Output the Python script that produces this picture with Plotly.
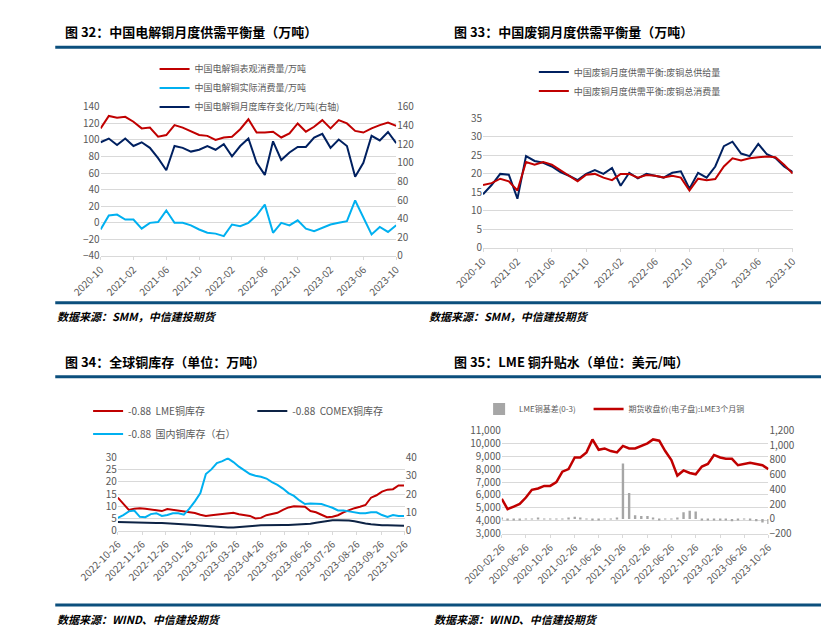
import plotly.graph_objects as go
import pandas as pd

# ---------- Panel 1 ----------
months1 = [str(p) for p in pd.period_range('2020-10', '2023-10', freq='M')]
apparent = [114,129,127,128,122,114,115,104,106,118,115,110,106,105,100,103,104,113,125,109,109,110,103,108,120,110,116,124,114,124,120,111,109,114,118,121,117]
actual = [-8,9,10,4,4,-7,0,1,15,0,0,-3,-8,-12,-13,-16,-2,-4,0,9,22,-12,0,-3,3,-7,-10,-6,-2,0,2,27,6,-14,-5,-11,-3]
stockchg = [122,126,119,126,118,122,116,105,92,118,116,112,114,118,114,120,107,118,126,100,87,123,103,111,117,117,127,131,116,125,118,85,100,129,124,133,121]

# ---------- Panel 2 ----------
supply = [14.5,17,20,19.8,13.3,24.8,23.5,23,22,20.5,19.5,18.3,20,21,20,21.6,16.8,20.3,18.8,20,19.5,19,20.3,20.7,16,20.3,19,22,27.5,28.7,25.5,24.8,28.1,25.3,24.3,22,20.5]
consume = [17,17.5,18.7,18,15.5,23.2,22.5,23.2,22.5,21,19.5,18,19.8,20,19,18.3,20,20,19,19.7,19.5,19,19.5,19,15.5,18.7,18.3,18.6,22,24.2,23.6,24.2,24.5,24.7,24.5,22.5,20.1]

# ---------- Panel 3 ----------
weeks3 = pd.date_range('2022-10-26', periods=53, freq='7D')
lme_stock = [13.5,11,8.5,9,9.2,9,8.7,8.3,8,8.8,8.5,8.3,8,7.5,7.2,6.5,6,6.3,6.5,7,7.2,7.3,6.7,6.3,6,5,5.2,6.3,6.8,7.3,8.5,9.5,10,10,9.8,8,7.5,6.5,5.5,5.7,6.3,7.5,8.5,9.2,9.8,10.5,13.5,14.5,16,16.8,17,18.5,18.5]
comex_stock = [3.5,3.4,3.3,3.3,3.2,3.2,3.2,3.1,3.1,3,3,2.9,2.8,2.6,2.3,2.1,1.9,1.7,1.5,1.4,1.3,1.3,1.4,1.6,1.8,2,2.2,2.3,2.3,2.3,2.3,2.3,2.4,2.5,2.6,2.8,3.2,3.5,4,4.2,4.2,4.2,4.1,3.8,3.2,2.9,2.6,2.3,2.2,2.2,2.1,2.1,2]
cn_stock = [7,8.5,10.5,11,7.5,7.3,9,9.5,8,8.5,9.5,9.5,8.7,12,16,20.5,31,33.5,37,38,39.5,37.5,35,33,31,30,29.5,28.5,26.5,25,23,20.5,19,16.5,14.5,14.8,14.8,14.5,13.5,12.5,11,11,10.5,10,9.5,9.5,10,10,8.5,7.5,8.5,8,8]
ticks3 = pd.date_range('2022-10-26', periods=13, freq=pd.DateOffset(months=1))

# ---------- Panel 4 ----------
months4 = pd.date_range('2020-02-26', periods=45, freq=pd.DateOffset(months=1))
price = [5700,4900,5100,5300,5800,6400,6500,6700,6700,7000,7800,
         8000,8900,8900,9300,10300,9500,9600,9400,9300,9800,9600,9600,
         9800,10000,10300,10200,9400,8700,7500,7900,7700,7600,8200,8400,
         9100,8900,8800,8800,8300,8400,8500,8400,8300,8000]
basis = [10,-10,-15,-10,-5,5,10,-5,-5,-5,-5,
         10,30,10,-5,-10,-10,-5,5,20,750,350,50,
         40,40,20,-10,-5,-5,10,90,110,100,-20,-15,
         -10,-15,-20,-30,-15,5,-20,-30,-50,-70]
ticks4 = pd.date_range('2020-02-26', periods=12, freq=pd.DateOffset(months=4))

RED = '#c00000'; NAVY = '#002060'; CYAN = '#00b0f0'; GREY = '#a6a6a6'
FONT = 'Noto Sans CJK SC'
fig = go.Figure()

fig.add_trace(go.Scatter(x=months1, y=apparent, name='中国电解铜表观消费量/万吨', line=dict(color=RED, width=2), xaxis='x', yaxis='y', legend='legend'))
fig.add_trace(go.Scatter(x=months1, y=actual, name='中国电解铜实际消费量/万吨', line=dict(color=CYAN, width=2), xaxis='x', yaxis='y', legend='legend'))
fig.add_trace(go.Scatter(x=months1, y=stockchg, name='中国电解铜月度库存变化/万吨(右轴)', line=dict(color=NAVY, width=2), xaxis='x', yaxis='y2', legend='legend'))

fig.add_trace(go.Scatter(x=months1, y=supply, name='中国废铜月度供需平衡:废铜总供给量', line=dict(color=NAVY, width=2), xaxis='x2', yaxis='y3', legend='legend2'))
fig.add_trace(go.Scatter(x=months1, y=consume, name='中国废铜月度供需平衡:废铜总消费量', line=dict(color=RED, width=2), xaxis='x2', yaxis='y3', legend='legend2'))

fig.add_trace(go.Scatter(x=weeks3, y=lme_stock, name='-0.88  LME铜库存', line=dict(color=RED, width=2), xaxis='x3', yaxis='y4', legend='legend3'))
fig.add_trace(go.Scatter(x=weeks3, y=comex_stock, name='-0.88  COMEX铜库存', line=dict(color='#0d2345', width=2), xaxis='x3', yaxis='y4', legend='legend5'))
fig.add_trace(go.Scatter(x=weeks3, y=cn_stock, name='-0.88  国内铜库存（右）', line=dict(color=CYAN, width=2), xaxis='x3', yaxis='y5', legend='legend6'))

fig.add_trace(go.Bar(x=months4, y=basis, name='LME铜基差(0-3)', width=12 * 86400000, marker=dict(color=GREY, line_width=0), xaxis='x4', yaxis='y7', legend='legend4'))
fig.add_trace(go.Scatter(x=months4, y=price, name='期货收盘价(电子盘):LME3个月铜', line=dict(color=RED, width=2.5), xaxis='x4', yaxis='y6', legend='legend7'))

tickf = dict(family=FONT, size=10, color='#595959')
xa = dict(showgrid=False, showline=True, linecolor='#d9d9d9', ticks='outside', tickcolor='#d9d9d9', ticklen=3, tickangle=-45, tickfont=tickf)
ya = dict(showgrid=True, gridcolor='#d9d9d9', showline=False, zeroline=False, tickfont=tickf, ticks='')

def lg(x, y, size=9):
    return dict(x=x, y=y, xanchor='left', yanchor='top', orientation='v', bgcolor='rgba(0,0,0,0)',
                font=dict(family=FONT, size=size, color='#595959'), tracegroupgap=0, itemwidth=30)

fig.update_layout(
    width=829, height=640, margin=dict(l=0, r=0, t=0, b=0), plot_bgcolor='white', paper_bgcolor='white',
    showlegend=True, barmode='overlay',
    xaxis=dict(xa, domain=[0.066, 0.444], anchor='y', type='category', tickvals=months1[::4]),
    yaxis=dict(ya, domain=[0.617, 0.856], range=[-40, 140], dtick=20, anchor='x'),
    yaxis2=dict(ya, overlaying='y', side='right', range=[0, 160], dtick=20, showgrid=False, anchor='x'),
    xaxis2=dict(xa, domain=[0.555, 0.951], anchor='y3', type='category', tickvals=months1[::4]),
    yaxis3=dict(ya, domain=[0.630, 0.8375], range=[0, 35], dtick=5, anchor='x2'),
    xaxis3=dict(xa, domain=[0.088, 0.455], anchor='y4', tickvals=list(ticks3), tickformat='%Y-%m-%d', range=[ticks3[0], ticks3[-1]]),
    yaxis4=dict(ya, domain=[0.177, 0.294], range=[0, 30], dtick=5, anchor='x3'),
    yaxis5=dict(ya, overlaying='y4', side='right', range=[0, 40], dtick=10, showgrid=False, anchor='x3'),
    xaxis4=dict(xa, domain=[0.579, 0.920], anchor='y6', tickvals=list(ticks4), tickformat='%Y-%m-%d', range=[months4[0], months4[-1]]),
    yaxis6=dict(ya, domain=[0.172, 0.3375], range=[3000, 11000], dtick=1000, tickformat=',', anchor='x4'),
    yaxis7=dict(ya, overlaying='y6', side='right', range=[-200, 1200], dtick=200, tickformat=',', showgrid=False, anchor='x4'),
    legend=lg(0.135, 0.94),
    legend2=lg(0.62, 0.935),
    legend3=lg(0.05, 0.392, 10),
    legend5=lg(0.26, 0.392, 10),
    legend6=lg(0.05, 0.355, 10),
    legend4=lg(0.55, 0.395, 8),
    legend7=lg(0.69, 0.395, 8),
)

# titles, rules, sources
titles = [(0.018, 15, '图 32：中国电解铜月度供需平衡量（万吨）'), (0.515, 15, '图 33：中国废铜月度供需平衡量（万吨）'),
          (0.018, 353, '图 34：全球铜库存（单位：万吨）'), (0.515, 353, '图 35：LME 铜升贴水（单位：美元/吨）')]
for x, py, t in titles:
    fig.add_annotation(x=x, y=1 - py / 640, xref='paper', yref='paper', text='<b>' + t + '</b>', showarrow=False,
                       xanchor='left', yanchor='middle', font=dict(family=FONT, size=13, color='black'))
sources = [(0.008, 307, '数据来源：SMM，中信建投期货'), (0.483, 307, '数据来源：SMM，中信建投期货'),
           (0.008, 617, '数据来源：WIND、中信建投期货'), (0.49, 617, '数据来源：WIND、中信建投期货')]
for x, py, t in sources:
    fig.add_annotation(x=x, y=1 - py / 640, xref='paper', yref='paper', text='<b><i>' + t + '</i></b>', showarrow=False,
                       xanchor='left', yanchor='middle', font=dict(family=FONT, size=11, color='black'))
for py in [31, 293, 369, 603]:
    fig.add_shape(type='line', xref='paper', yref='paper', x0=0.008, x1=0.996, y0=1 - py / 640, y1=1 - py / 640,
                  line=dict(color='#0b4f7d', width=3))

fig.write_html('out.html')
